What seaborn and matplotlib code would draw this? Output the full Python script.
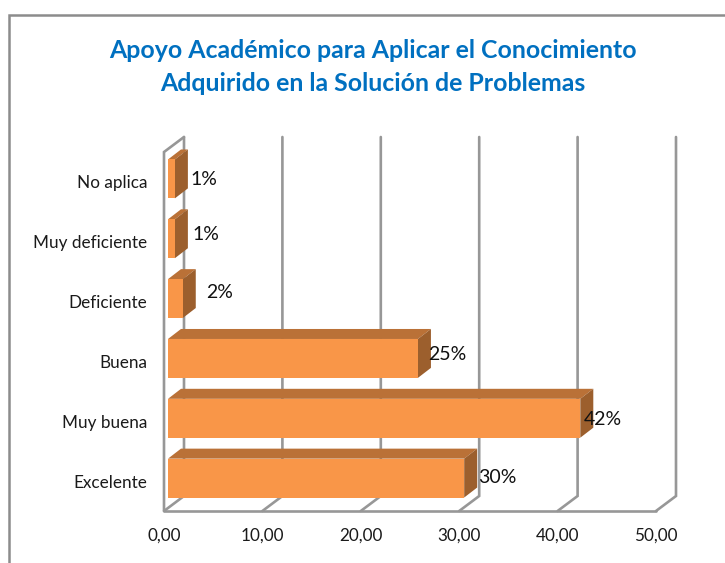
import numpy as np
import pandas as pd
import seaborn as sns
from matplotlib import pyplot as plt
from matplotlib.patches import Polygon, Rectangle

categories = ["No aplica", "Muy deficiente", "Deficiente", "Buena", "Muy buena", "Excelente"]
values = [0.7, 0.7, 1.5, 25.4, 41.9, 30.1]
value_labels = ["1%", "1%", "2%", "25%", "42%", "30%"]
x_ticks = [0, 10, 20, 30, 40, 50]
x_tick_labels = ["0,00", "10,00", "20,00", "30,00", "40,00", "50,00"]
title = "Apoyo Académico para Aplicar el Conocimiento\nAdquirido en la Solución de Problemas"

# hand placed data labels in the original, pixels from the bar's back corner / centre
label_dx = [3, 5, 10, -3, -10, 1]
label_dy = [1, -4, -6, -4, 1, -1]

W, H = 725, 563
# plot area of the front plane, in pixels
left, right, top, bottom = 164, 656, 152, 511

sns.set_style("white")
plt.rcParams["font.family"] = ["Lato", "DejaVu Sans"]

fig = plt.figure(figsize=(W / 100, H / 100), dpi=100)
ax = fig.add_axes([left / W, 1 - bottom / H, (right - left) / W, (bottom - top) / H])

df = pd.DataFrame({"category": categories, "value": values})
sns.barplot(data=df, x="value", y="category", order=categories, color="#F99648",
            saturation=1, width=0.65, ax=ax, zorder=5, linewidth=0, edgecolor="none")

ax.set_xlim(0, 50)
ax.set_ylim(5.5, -0.5)
ax.set_xlabel("")
ax.set_ylabel("")
ax.set_xticks(x_ticks)
ax.set_xticklabels(x_tick_labels, fontsize=12.3, color="#1a1a1a")
ax.tick_params(axis="x", length=0, pad=12)
ax.tick_params(axis="y", length=0, pad=12, labelsize=12.3, labelcolor="#1a1a1a")
for s in ax.spines.values():
    s.set_visible(False)

# pixels to data units
px = 50 / (right - left)
py = 6 / (bottom - top)
grey = "#979797"
lw = 1.9
depth_x, depth_y = 20 * px, 15 * py
y_low, y_high = 5.5, -0.5

# back wall lines and floor
for t in x_ticks:
    ax.plot([t, t + depth_x, t + depth_x], [y_low, y_low - depth_y, y_high - depth_y],
            color=grey, lw=lw, clip_on=False, zorder=1, solid_joinstyle="miter")
ax.plot([0, 50], [y_low, y_low], color=grey, lw=lw, clip_on=False, zorder=1)
ax.plot([0, 0, depth_x], [y_low, y_high, y_high - depth_y], color=grey, lw=lw,
        clip_on=False, zorder=1, solid_joinstyle="miter")

# 3D faces of the bars, built from the bars seaborn drew
gap_x, gap_y = 4 * px, 3 * py
bar_x, bar_y = 13 * px, 10 * py
for patch, lab, dx, dy in zip(ax.patches, value_labels, label_dx, label_dy):
    x0, y0 = patch.get_x(), patch.get_y()
    w, h = patch.get_width(), patch.get_height()
    x0 += gap_x
    y0 -= gap_y
    patch.set_x(x0)
    patch.set_y(y0)
    patch.set_clip_on(False)
    ax.add_patch(Polygon([(x0, y0), (x0 + bar_x, y0 - bar_y), (x0 + w + bar_x, y0 - bar_y), (x0 + w, y0)],
                         facecolor="#BA7137", edgecolor="none", clip_on=False, zorder=4))
    ax.add_patch(Polygon([(x0 + w, y0), (x0 + w + bar_x, y0 - bar_y), (x0 + w + bar_x, y0 + h - bar_y), (x0 + w, y0 + h)],
                         facecolor="#9C5F2D", edgecolor="none", clip_on=False, zorder=4))
    ax.text(x0 + w + bar_x + dx * px, y0 + h / 2 + dy * py, lab, fontsize=14, color="#111111",
            ha="left", va="center", zorder=6)

fig.text(373 / W, 1 - 67 / H, title, fontsize=17.9, fontweight="bold", color="#0070C0",
         ha="center", va="center", linespacing=1.5)

# chart frame
fig.add_artist(Rectangle((9 / W, -0.02), 1, 1 - 15 / H + 0.02, transform=fig.transFigure,
                         fill=False, edgecolor="#8c8c8c", lw=1.8))

plt.savefig("out.png", dpi=100)
